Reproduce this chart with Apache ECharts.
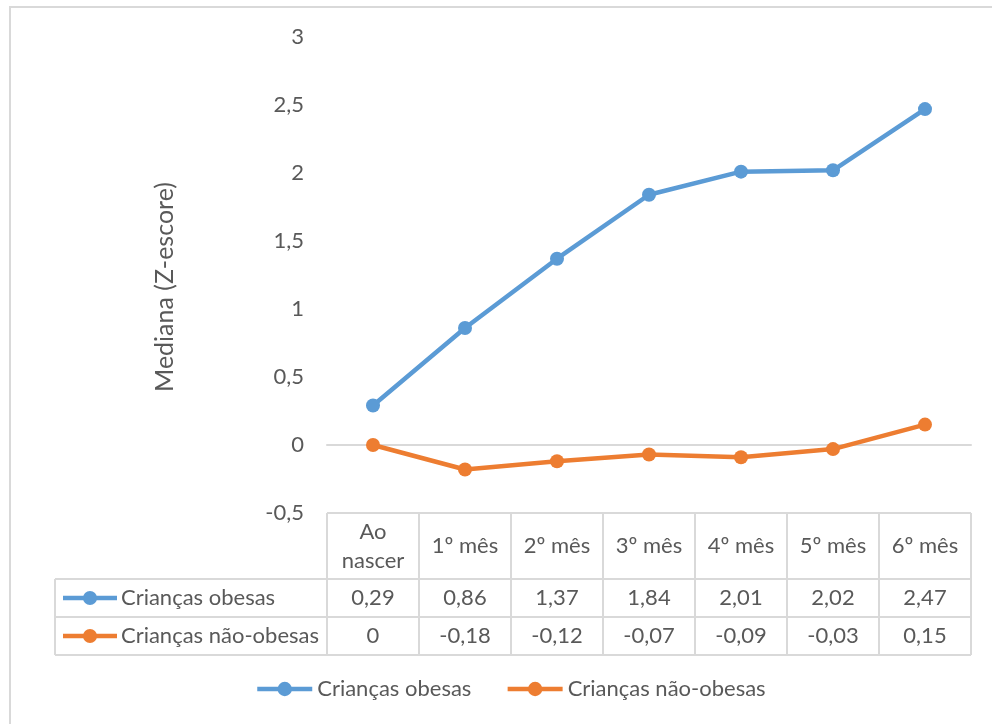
<!DOCTYPE html>
<html>
<head>
<meta charset="utf-8">
<script src="https://cdn.jsdelivr.net/npm/echarts@6/dist/echarts.min.js"></script>
<style>
  html, body { margin: 0; padding: 0; background: #ffffff; }
  #chart { width: 992px; height: 724px; }
</style>
</head>
<body>
<div id="chart"></div>
<script>
// Categories (months) and median Z-scores per group
const categories = ['Ao\nnascer', '1º mês', '2º mês', '3º mês', '4º mês', '5º mês', '6º mês'];
const seriesNames = ['Crianças obesas', 'Crianças não-obesas'];
const obesas = [0.29, 0.86, 1.37, 1.84, 2.01, 2.02, 2.47];
const naoObesas = [0, -0.18, -0.12, -0.07, -0.09, -0.03, 0.15];
const yAxisTitle = 'Mediana (Z-escore)';
const yMin = -0.5, yMax = 3, yStep = 0.5;

const FONT = 'Lato';
const TEXT = '#595959';
const RULE = '#d9d9d9';
const COLORS = ['#5b9bd5', '#ed7d31'];
const FS = 22;
const LW = 4.5;

// decimal comma, as in pt-BR
const fmt = v => String(v).replace('.', ',');

const chart = echarts.init(document.getElementById('chart'));

const option = {
  animation: false,
  backgroundColor: '#ffffff',
  color: COLORS,
  textStyle: { fontFamily: FONT, color: TEXT },
  grid: { left: 327, right: 21, top: 37, bottom: 211, containLabel: false },
  xAxis: {
    type: 'category',
    data: categories,
    boundaryGap: true,
    axisLine: { onZero: true, lineStyle: { color: RULE, width: 2 } },
    axisTick: { show: false },
    axisLabel: { show: false },
    splitLine: { show: false }
  },
  yAxis: {
    type: 'value',
    min: yMin, max: yMax, interval: yStep,
    name: yAxisTitle,
    nameLocation: 'middle',
    nameRotate: 90,
    nameGap: 150,
    nameTextStyle: { fontFamily: FONT, fontSize: 25, color: TEXT, padding: [0, 24, 0, 0] },
    axisLine: { show: false },
    axisTick: { show: false },
    splitLine: { show: false },
    axisLabel: { margin: 23, fontFamily: FONT, fontSize: FS, color: TEXT, formatter: fmt }
  },
  legend: {
    left: 255,
    top: 678,
    padding: 0,
    itemWidth: 55,
    itemHeight: 18,
    itemGap: 34,
    lineStyle: { width: LW },
    textStyle: { fontFamily: FONT, fontSize: FS, color: TEXT },
    data: seriesNames
  },
  series: [
    { name: seriesNames[0], type: 'line', data: obesas, symbol: 'circle', symbolSize: 14,
      lineStyle: { width: LW }, itemStyle: { color: COLORS[0] } },
    { name: seriesNames[1], type: 'line', data: naoObesas, symbol: 'circle', symbolSize: 14,
      lineStyle: { width: LW }, itemStyle: { color: COLORS[1] } }
  ]
};

chart.setOption(option);

// Data table below the plot, with columns taken from the category axis
const centers = categories.map((c, i) => chart.convertToPixel({ xAxisIndex: 0 }, i));
const half = (centers[1] - centers[0]) / 2;
const tableTop = chart.convertToPixel({ yAxisIndex: 0 }, yMin);
const colLeft = centers[0] - half;
const colRight = centers[centers.length - 1] + half;
const tableLeft = 55;
const headerBottom = 579;
const rowH = 38;
const rows = [obesas, naoObesas];
const tableBottom = headerBottom + rowH * rows.length;

const g = [];
const line = (x1, y1, x2, y2) => g.push({
  type: 'line', silent: true,
  shape: { x1, y1, x2, y2 },
  style: { stroke: RULE, lineWidth: 2 }
});
const text = (x, y, s, align) => g.push({
  type: 'text', silent: true, x, y,
  style: { text: s, fill: TEXT, font: FS + 'px ' + FONT, align: align || 'center', verticalAlign: 'middle', lineHeight: 29 }
});

// chart frame
g.push({ type: 'rect', silent: true, shape: { x: 10, y: 7, width: 1000, height: 760 },
  style: { fill: null, stroke: RULE, lineWidth: 2 } });

// horizontal rules
line(colLeft, tableTop, colRight, tableTop);
for (let r = 0; r <= rows.length; r++) {
  line(tableLeft, headerBottom + r * rowH, colRight, headerBottom + r * rowH);
}
// vertical rules
line(tableLeft, headerBottom, tableLeft, tableBottom);
for (let i = 0; i <= categories.length; i++) {
  line(colLeft + i * 2 * half, tableTop, colLeft + i * 2 * half, tableBottom);
}
// header
categories.forEach((c, i) => text(centers[i], (tableTop + headerBottom) / 2, c));
// rows
rows.forEach((vals, r) => {
  const cy = headerBottom + r * rowH + rowH / 2;
  g.push({ type: 'line', silent: true, shape: { x1: 63, y1: cy, x2: 117, y2: cy },
    style: { stroke: COLORS[r], lineWidth: LW } });
  g.push({ type: 'circle', silent: true, shape: { cx: 90, cy, r: 7 }, style: { fill: COLORS[r] } });
  text(121, cy, seriesNames[r], 'left');
  vals.forEach((v, i) => text(centers[i], cy, fmt(v)));
});

chart.setOption({ graphic: g });
</script>
</body>
</html>
